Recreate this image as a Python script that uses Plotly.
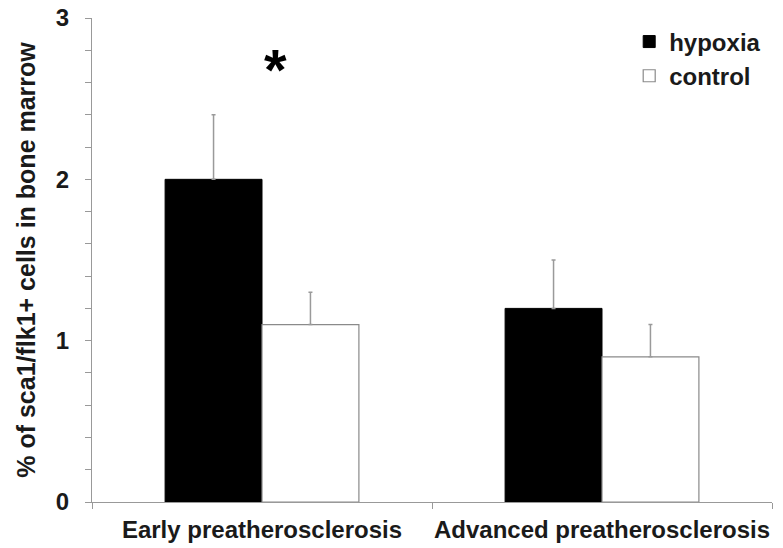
import plotly.graph_objects as go

categories = ["Early preatherosclerosis", "Advanced preatherosclerosis"]
hypoxia = [2.0, 1.2]
hypoxia_err = [0.4, 0.3]
control = [1.1, 0.9]
control_err = [0.2, 0.2]
y_ticks = [0, 1, 2, 3]

FONT = "Liberation Sans, Arial, sans-serif"

fig = go.Figure()
fig.add_trace(go.Bar(
    x=categories, y=hypoxia, name="hypoxia",
    marker=dict(color="black", line=dict(color="black", width=1)),
    error_y=dict(type="data", array=hypoxia_err, arrayminus=[0, 0], symmetric=False,
                 color="#9a9a9a", thickness=1.5, width=2),
))
fig.add_trace(go.Bar(
    x=categories, y=control, name="control",
    marker=dict(color="white", line=dict(color="#8a8a8a", width=1.2)),
    error_y=dict(type="data", array=control_err, arrayminus=[0, 0], symmetric=False,
                 color="#9a9a9a", thickness=1.5, width=2),
))

fig.add_annotation(x=0, y=2.68, xref="x", yref="y", text="*", showarrow=False,
                   xshift=13, font=dict(family=FONT, size=58, color="black", weight="bold"))

fig.update_layout(
    width=783, height=548,
    margin=dict(l=92, r=11, t=18, b=46, autoexpand=False),
    paper_bgcolor="white", plot_bgcolor="white",
    barmode="group", bargap=0.43, bargroupgap=0,
    font=dict(family=FONT, size=24, color="#1a1a1a", weight="bold"),
    showlegend=True,
    legend=dict(x=0.79, y=0.997, xanchor="left", yanchor="top",
                bgcolor="rgba(0,0,0,0)", font=dict(size=24, weight="bold"),
                itemwidth=30, tracegroupgap=0),
    xaxis=dict(showline=True, linecolor="#999999", linewidth=1, automargin=False,
               ticks="outside", tickson="boundaries", ticklen=6, tickcolor="#999999",
               tickangle=0, ticklabelstandoff=6,
               tickfont=dict(size=24, weight="bold"), showgrid=False),
    yaxis=dict(range=[0, 3], tickvals=y_ticks, showline=True, linecolor="#999999", linewidth=1,
               automargin=False,
               ticks="outside", ticklen=6, tickcolor="#999999",
               minor=dict(dtick=0.2, ticks="outside", ticklen=6, tickcolor="#999999"),
               tickfont=dict(size=24, weight="bold"), ticklabelstandoff=11,
               showgrid=False, zeroline=False,
               title=dict(text="% of sca1/flk1+ cells in bone marrow",
                          font=dict(size=25, weight="bold"), standoff=13)),
)

fig.write_html("out.html")
